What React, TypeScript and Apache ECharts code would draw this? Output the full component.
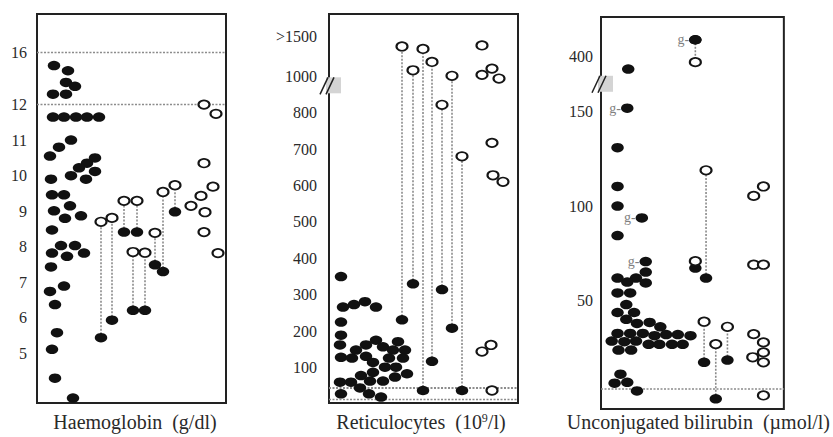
import React, { useEffect, useRef } from "react";
import * as echarts from "echarts";

// ---------- Haemoglobin (g/dl) ----------
const hbTicks = [5, 6, 7, 8, 9, 10, 11, 12, 16];
const hbRefLines = [12, 16];
const hbFilledX = [1.7, 3.1, 2.9, 3.8, 1.6, 2.9, 1.6, 2.7, 3.9, 5.0, 6.2, 3.4, 2.2, 1.3, 5.8, 5.0, 4.2, 3.4, 5.8, 4.9, 1.4, 1.5, 2.7, 3.3, 1.7, 2.8, 4.4, 1.5, 2.4, 3.8, 1.5, 3.0, 4.7, 1.4, 2.7, 1.3, 1.8, 2.0, 1.5, 1.8, 3.6];
const hbFilledY = [15.0, 14.6, 13.7, 13.4, 12.8, 12.8, 11.65, 11.65, 11.65, 11.65, 11.65, 11.0, 10.8, 10.55, 10.5, 10.35, 10.22, 10.0, 10.12, 9.9, 9.9, 9.46, 9.46, 9.15, 9.01, 8.8, 8.87, 8.47, 8.03, 8.03, 7.82, 7.73, 7.82, 7.43, 6.89, 6.74, 6.37, 5.58, 5.11, 4.3, 3.74];
const hbPairX = [6.4, 7.5, 8.7, 10.0, 9.6, 10.8, 11.8, 12.6, 13.8];
const hbPairFilled = [5.44, 5.93, 8.41, 8.41, 6.21, 6.21, 7.49, 7.3, 8.98];
const hbPairOpen = [8.7, 8.81, 9.29, 9.29, 7.85, 7.83, 8.39, 9.54, 9.73];
const hbOpenX = [15.4, 16.4, 17.6, 16.7, 16.7, 17.9, 16.8, 16.7, 18.1];
const hbOpenY = [9.15, 9.43, 9.69, 10.35, 12.0, 11.74, 8.97, 8.41, 7.82];

// ---------- Reticulocytes (10^9/l) ----------
const retTicks = [100, 200, 300, 400, 500, 600, 700, 800, 1000, 1500];
const retTickLabels = ["100", "200", "300", "400", "500", "600", "700", "800", "1000", ">1500"];
const retRefLines = [45, 13];
const retBreakAt = 950;
const retFilledX = [1.2, 1.4, 2.5, 3.6, 4.7, 1.2, 1.2, 1.1, 1.2, 2.3, 2.7, 3.7, 4.7, 5.4, 6.9, 6.4, 7.6, 3.7, 4.4, 6.0, 7.4, 5.6, 6.7, 4.4, 3.2, 5.4, 6.6, 7.8, 4.1, 1.1, 2.2, 3.1, 1.2, 4.0, 5.2];
const retFilledY = [350, 266, 273, 281, 266, 225, 189, 162, 128, 126, 148, 162, 175, 157, 171, 148, 148, 131, 114, 126, 126, 101, 101, 87, 78, 63, 74, 83, 63, 60, 60, 44, 28, 28, 19];
const retPairX = [7.3, 8.4, 9.4, 10.3, 11.3, 12.3, 13.3];
const retPairFilled = [231, 330, 37, 117, 314, 208, 37];
const retPairOpen = [1371, 1074, 1340, 1178, 843, 1005, 680];
const retOpenX = [15.3, 15.3, 16.3, 17.0, 16.3, 16.4, 17.4, 15.3, 16.2, 16.3];
const retOpenY = [1384, 1017, 1095, 987, 717, 628, 610, 144, 162, 37];

// ---------- Unconjugated bilirubin (µmol/l) ----------
const biliTicks = [50, 100, 150, 400];
const biliRefLines = [2.8];
const biliBreakAt = 165;
const biliFilledX = [2.8, 1.7, 1.7, 1.7, 1.7, 4.6, 4.6, 3.6, 2.7, 1.7, 1.7, 3.0, 2.6, 1.7, 3.4, 2.6, 3.7, 5.0, 6.1, 1.7, 3.0, 4.3, 5.5, 6.7, 7.9, 9.2, 1.1, 2.4, 3.6, 4.9, 6.0, 7.3, 8.4, 1.8, 3.1, 2.0, 1.4, 2.7, 3.7];
const biliFilledY = [332, 131, 110.4, 100, 84.3, 64.9, 59.1, 61.7, 59.6, 61.7, 53.8, 53.8, 47.6, 43.4, 43.4, 39.8, 37.6, 38.1, 35.8, 32.3, 32.3, 32.3, 31.1, 31.7, 31.7, 31.1, 28.2, 27.9, 28.2, 26.5, 26.5, 26.5, 26.5, 23.4, 23.4, 10.6, 5.8, 6.3, 1.7];
const biliGX = [2.7, 4.2, 4.6, 9.7];
const biliGY = [152, 93.7, 70.5, 488];
const biliPairX = [9.7, 10.8, 10.6, 11.8, 13.0, 9.7];
const biliPairFilled = [488, 61.7, 16.9, -2.5, 18.1, 67];
const biliPairOpen = [369, 119, 38.5, 26.6, 35.8, 70.7];
const biliOpenX = [15.7, 16.7, 15.7, 16.7, 15.7, 16.7, 16.7, 15.6, 16.7, 16.7];
const biliOpenY = [105.4, 110.4, 68.8, 68.8, 31.9, 27.5, 22.2, 19.6, 16.9, -0.7];

// ---------- piecewise (broken) axis transforms ----------
const hbD = (v: number) => (v <= 12 ? v : 12 + (v - 12) * 0.3664);
const retD = (v: number) => (v <= 800 ? v : v <= 1000 ? 800 + (v - 800) * 0.5 : 900 + (v - 1000) * 0.22);
const biliD = (v: number) => (v <= 170 ? v : 179.6 + (v - 400) * 0.1);

const FONT = "'Liberation Serif', 'Times New Roman', serif";
const TXT = "#2a2a2a";
const FILLED = { color: "#111111", opacity: 1 };
const OPEN = { color: "#ffffff", borderColor: "#151515", borderWidth: 1.9, opacity: 1 };
const FILLED_SIZE = [12.5, 9.5];
const OPEN_SIZE = [11, 8.5];

function nearestLabel(val: number, disp: number[], labels: string[]) {
  let best = 0;
  for (let i = 1; i < disp.length; i++) {
    if (Math.abs(disp[i] - val) < Math.abs(disp[best] - val)) best = i;
  }
  return labels[best];
}

function zip(xs: number[], ys: number[], f: (v: number) => number) {
  return xs.map((x, i) => [x, f(ys[i])]);
}

function panelSeries(
  idx: number,
  f: (v: number) => number,
  filledX: number[], filledY: number[],
  pairX: number[], pairFilled: number[], pairOpen: number[],
  openX: number[], openY: number[],
  refLines: number[],
  refWidth: number[]
) {
  return [
    {
      type: "custom",
      xAxisIndex: idx,
      yAxisIndex: idx,
      z: 1,
      silent: true,
      encode: { x: 0, y: [1, 2] },
      data: pairX.map((x, i) => [x, f(pairFilled[i]), f(pairOpen[i])]),
      renderItem: (params: any, api: any) => {
        const a = api.coord([api.value(0), api.value(1)]);
        const b = api.coord([api.value(0), api.value(2)]);
        return {
          type: "line",
          shape: { x1: a[0], y1: a[1], x2: b[0], y2: b[1] },
          style: { stroke: "#8a8a8a", lineWidth: 1.6, lineDash: [2, 1.5] },
        };
      },
    },
    {
      type: "scatter",
      xAxisIndex: idx,
      yAxisIndex: idx,
      z: 3,
      symbol: "circle",
      symbolSize: FILLED_SIZE,
      itemStyle: FILLED,
      data: zip(filledX, filledY, f).concat(zip(pairX, pairFilled, f)),
      markLine: {
        silent: true,
        symbol: "none",
        label: { show: false },
        z: 2,
        data: refLines.map((v, i) => ({
          yAxis: f(v),
          lineStyle: { color: "#8c8c8c", width: refWidth[i] ?? 1.2, type: [2, 1.5] },
        })),
      },
    },
    {
      type: "scatter",
      xAxisIndex: idx,
      yAxisIndex: idx,
      z: 4,
      symbol: "circle",
      symbolSize: OPEN_SIZE,
      itemStyle: OPEN,
      data: zip(openX, openY, f).concat(zip(pairX, pairOpen, f)),
    },
  ];
}

function yAxis(idx: number, min: number, max: number, ticks: number[], labels: string[], f: (v: number) => number, margin: number) {
  const disp = ticks.map(f);
  return {
    type: "value",
    gridIndex: idx,
    min,
    max,
    axisLine: { show: false },
    axisTick: { show: false },
    splitLine: { show: false },
    axisLabel: {
      show: true,
      customValues: disp,
      margin,
      padding: [0, 0, 7, 0],
      fontFamily: FONT,
      fontSize: 16,
      color: TXT,
      formatter: (val: number) => nearestLabel(val, disp, labels),
    },
  };
}

function xAxis(idx: number, max: number, name: string, gap: number, shift: number, rich?: any) {
  return {
    type: "value",
    gridIndex: idx,
    min: 0,
    max,
    axisLine: { show: false },
    axisTick: { show: false },
    axisLabel: { show: false },
    splitLine: { show: false },
    name,
    nameLocation: "middle",
    nameGap: gap,
    nameTextStyle: {
      fontFamily: FONT,
      fontSize: 20,
      color: TXT,
      padding: shift >= 0 ? [0, 0, 0, shift * 2] : [0, -shift * 2, 0, 0],
      rich,
    },
  };
}

export default function App() {
  const ref = useRef<HTMLDivElement>(null);

  useEffect(() => {
    if (!ref.current) return;
    const chart = echarts.init(ref.current, undefined, { renderer: "svg" });

    const gridStyle = { show: true, borderColor: "#222", borderWidth: 2, backgroundColor: "transparent" };
    const option: any = {
      animation: false,
      backgroundColor: "#ffffff",
      grid: [
        { left: 37, top: 14, width: 189, height: 391, ...gridStyle },
        { left: 329, top: 14, width: 189, height: 392, ...gridStyle },
        { left: 601, top: 17, width: 188, height: 394, ...gridStyle },
      ],
      xAxis: [
        xAxis(0, 18.9, "Haemoglobin  (g/dl)", 9, 3.5),
        xAxis(1, 18.9, "{t|Reticulocytes  (10}{s|9}{t|/l)}", 9, -2.5, {
          t: { fontFamily: FONT, fontSize: 20, color: TXT },
          s: { fontFamily: FONT, fontSize: 12, color: TXT, verticalAlign: "top" },
        }),
        xAxis(2, 18.8, "Unconjugated bilirubin  (\u00b5mol/l)", 3, 6),
      ],
      yAxis: [
        yAxis(0, 3.6, 14.55, hbTicks, hbTicks.map(String), hbD, 10),
        yAxis(1, 2.7, 1070.8, retTicks, retTickLabels, retD, 12),
        yAxis(2, -7.9, 200.5, biliTicks, biliTicks.map(String), biliD, 8),
      ],
      series: [
        ...panelSeries(0, hbD, hbFilledX, hbFilledY, hbPairX, hbPairFilled, hbPairOpen, hbOpenX, hbOpenY, hbRefLines, [1.3, 1.3]),
        ...panelSeries(1, retD, retFilledX, retFilledY, retPairX, retPairFilled, retPairOpen, retOpenX, retOpenY, retRefLines, [2.2, 1.3]),
        ...panelSeries(2, biliD, biliFilledX, biliFilledY, biliPairX, biliPairFilled, biliPairOpen, biliOpenX, biliOpenY, biliRefLines, [1.6]),
        {
          type: "scatter",
          xAxisIndex: 2,
          yAxisIndex: 2,
          z: 5,
          symbol: "circle",
          symbolSize: FILLED_SIZE,
          itemStyle: FILLED,
          data: zip(biliGX, biliGY, biliD),
          label: {
            show: true,
            position: "left",
            distance: 0,
            formatter: "g-",
            fontFamily: FONT,
            fontSize: 14,
            color: "#808080",
          },
        },
      ],
    };
    chart.setOption(option);

    // axis-break marks ("//") on the broken axes
    const breakMark = (gridIndex: number, d: number) => {
      const p = chart.convertToPixel({ gridIndex }, [0, d]) as number[];
      const x = p[0];
      const y = p[1];
      return [
        { type: "rect", z: 100, shape: { x: x - 3, y: y - 8, width: 15, height: 16 }, style: { fill: "#d4d4d4" } },
        { type: "line", z: 101, shape: { x1: x - 9, y1: y + 9, x2: x - 1, y2: y - 8 }, style: { stroke: "#222", lineWidth: 1.5 } },
        { type: "line", z: 101, shape: { x1: x - 3, y1: y + 9, x2: x + 5, y2: y - 8 }, style: { stroke: "#222", lineWidth: 1.5 } },
      ];
    };
    chart.setOption({
      graphic: [...breakMark(1, retD(retBreakAt)), ...breakMark(2, biliD(biliBreakAt))],
    });

    return () => chart.dispose();
  }, []);

  return (
    <div
      ref={ref}
      style={{ position: "fixed", left: 0, top: 0, width: 833, height: 437, background: "#fff" }}
    />
  );
}
